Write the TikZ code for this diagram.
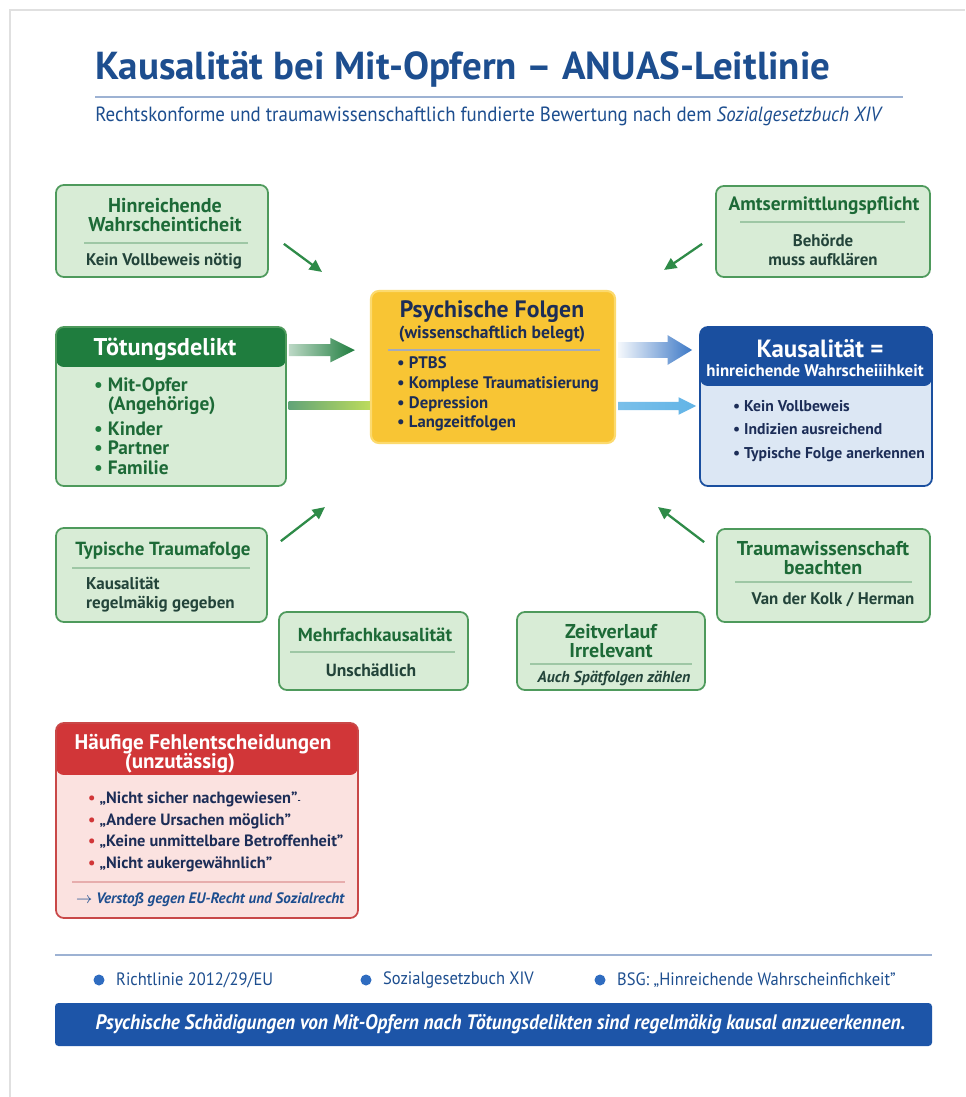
\documentclass[tikz,border=0pt]{standalone}
\usepackage{fontspec}
\setmainfont{PT Sans}
\newfontfamily\condfont[FakeStretch=0.92]{PT Sans}
\usetikzlibrary{arrows.meta,calc}
\definecolor{titleblue}{HTML}{1D4E8F}
\definecolor{ruleblue}{HTML}{9DB2D3}
\definecolor{gline}{HTML}{4E9A5C}
\definecolor{gfill}{HTML}{D8ECD6}
\definecolor{gdark}{HTML}{1D6A37}
\definecolor{gtext}{HTML}{23443A}
\definecolor{ghead}{HTML}{1F7D3E}
\definecolor{yfill}{HTML}{F8C534}
\definecolor{yline}{HTML}{FCDA6E}
\definecolor{navy}{HTML}{1C2D57}
\definecolor{bhead}{HTML}{1A4F9F}
\definecolor{bfill}{HTML}{DCE7F4}
\definecolor{barrow}{HTML}{3C78C6}
\definecolor{skyblue}{HTML}{62B4E6}
\definecolor{rhead}{HTML}{D13638}
\definecolor{rfill}{HTML}{FBE2E0}
\definecolor{rline}{HTML}{C94848}
\definecolor{banner}{HTML}{1D55A8}
\definecolor{dotblue}{HTML}{2F6CC0}
\definecolor{arrgreen}{HTML}{2E8B48}
\definecolor{lime}{HTML}{BCDB5C}

% box from pixel corners: style, name, x1, y1, x2, y2
\newcommand\pbox[6]{\node[#1,minimum width={(#5-#3)*0.02cm},minimum height={(#6-#4)*0.02cm},inner sep=0pt] (#2) at ({(#3+#5)/2},{(#4+#6)/2}) {};}
% shaded block arrow: style, from, to, shaft half, head half, head length
\newcommand\fatarrow[6]{\shade[#1] let \p1=(#2), \p2=(#3) in
  (\x1,\y1+#4) -- (\x2-#6,\y1+#4) -- (\x2-#6,\y1+#5) -- (\x2,\y1)
  -- (\x2-#6,\y1-#5) -- (\x2-#6,\y1-#4) -- (\x1,\y1-#4) -- cycle;}

\begin{document}
\begin{tikzpicture}[x=0.02cm,y=-0.02cm,
  gbox/.style={draw=gline,fill=gfill,line width=1pt,rounded corners=4.5pt},
  hdr/.style 2 args={path picture={\fill[#1] (path picture bounding box.north west) rectangle ([yshift=-#2]path picture bounding box.north east);}},
  gtitle/.style={font=\bfseries\fontsize{11.4}{11.3}\selectfont,text=gdark,align=center},
  gsub/.style={font=\bfseries\fontsize{9.6}{10.3}\selectfont,text=gtext,align=center},
  sep/.style={draw=gline!55,line width=0.6pt},
  garr/.style={draw=arrgreen,line width=1.3pt,-{Triangle[length=7pt,width=6.5pt]}},
  list/.style={anchor=west,align=left,font=\bfseries\fontsize{9.5}{11.3}\selectfont},
  src/.style={anchor=west,font=\condfont\fontsize{10.2}{12}\selectfont,text=titleblue}]
\useasboundingbox (0,0) rectangle (965,1097);
\fill[white] (0,0) rectangle (965,1097);
\draw[black!12,line width=1pt] (10,1097) -- (10,10) -- (965,10);

% heading
\node[anchor=base west,inner sep=0pt,font=\bfseries\fontsize{22.2}{25}\selectfont,text=titleblue] (title) at (95,80) {Kausalität bei Mit-Opfern – ANUAS-Leitlinie};
\draw[ruleblue,line width=0.9pt] (95,97) -- (903,97);
\node[anchor=base west,inner sep=0pt,font=\condfont\fontsize{11.7}{13}\selectfont,text=titleblue] (subtitle) at (95,122) {Rechtskonforme und traumawissenschaftlich fundierte Bewertung nach dem \textit{Sozialgesetzbuch XIV}};

% boxes
\pbox{gbox}{hin}{56}{185}{268}{277}
\pbox{gbox}{amts}{716}{186}{930}{277}
\pbox{draw=yline,fill=yfill,line width=1.2pt,rounded corners=4.5pt}{psy}{371}{291}{615}{443}
\pbox{gbox,hdr={ghead}{0.8cm}}{tot}{56}{327}{286}{486}
\pbox{draw=bhead,fill=bfill,line width=1pt,rounded corners=4.5pt,hdr={bhead}{1.18cm}}{kaus}{700}{327}{932}{486}
\pbox{gbox}{typ}{56}{528}{267}{622}
\pbox{gbox}{mehr}{279}{612}{468}{690}
\pbox{gbox}{zeit}{517}{612}{705}{690}
\pbox{gbox}{trauma}{717}{529}{930}{622}
\pbox{draw=rline,fill=rfill,line width=1pt,rounded corners=4.5pt,hdr={rhead}{1.04cm}}{fehl}{56}{723}{358}{918}

% Hinreichende Wahrscheinlichkeit
\node[gtitle] (hinT) at (165,215) {Hinreichende\\Wahrscheinticheit};
\draw[sep] (84,243) -- (248,243);
\node[gsub] (hinS) at (164,261) {Kein Vollbeweis nötig};

% Amtsermittlung
\node[gtitle,font=\bfseries\fontsize{11}{11.3}\selectfont] (amtsT) at (824,206) {Amtsermittlungspflicht};
\draw[sep] (740,222) -- (905,222);
\node[gsub] (amtsS) at (823,250) {Behörde\\muss aufklären};

% Psychische Folgen
\node[font=\bfseries\fontsize{13.5}{15}\selectfont,text=navy] (psyT) at (492,312) {Psychische Folgen};
\node[font=\bfseries\fontsize{10}{12}\selectfont,text=navy] (psyS) at (492,334) {(wissenschaftlich belegt)};
\draw[draw=navy!40,line width=0.6pt] (388,350) -- (600,350);
\node[list,text=navy] (psyL) at (391,394) {• PTBS\\• Komplese Traumatisierung\\• Depression\\• Langzeitfolgen};

% Toetungsdelikt
\node[font=\bfseries\fontsize{13.8}{15}\selectfont,text=white] (totT) at (165,349) {Tötungsdelikt};
\node[list,text=gdark,font=\bfseries\fontsize{11}{11}\selectfont] (totL) at (88,426) {{\color{ghead}•} Mit-Opfer\\\hphantom{• }(Angehörige)\\[3pt]{\color{ghead}•} Kinder\\{\color{ghead}•} Partner\\{\color{ghead}•} Familie};

% Kausalitaet
\node[font=\bfseries\fontsize{14.2}{15}\selectfont,text=white] (kausT) at (820,349) {Kausalität =};
\node[font=\bfseries\fontsize{9.6}{10}\selectfont,text=white] (kausS) at (815,371) {hinreichende Wahrscheiiihkeit};
\node[list,text=navy,font=\bfseries\fontsize{8.9}{13.6}\selectfont] (kausL) at (727,431) {• Kein Vollbeweis\\• Indizien ausreichend\\• Typische Folge anerkennen};

% Typische Traumafolge
\node[gtitle,font=\bfseries\fontsize{10.8}{11}\selectfont] (typT) at (163,551) {Typische Traumafolge};
\draw[sep] (72,568) -- (250,568);
\node[gsub,align=left,anchor=west,font=\bfseries\fontsize{9.7}{10.8}\selectfont] (typS) at (80,595) {Kausalität\\regelmäkig gegeben};

% Mehrfachkausalitaet
\node[gtitle,font=\bfseries\fontsize{10.7}{11}\selectfont] (mehrT) at (375,635) {Mehrfachkausalität};
\draw[sep] (290,652) -- (455,652);
\node[gsub,font=\bfseries\fontsize{10}{11}\selectfont] (mehrS) at (371,670) {Unschädlich};

% Zeitverlauf
\node[gtitle] (zeitT) at (611,641) {Zeitverlauf\\Irrelevant};
\draw[sep] (530,664) -- (692,664);
\node[gsub,font=\bfseries\itshape\fontsize{9}{10}\selectfont] (zeitS) at (614,678) {Auch Spätfolgen zählen};

% Traumawissenschaft
\node[gtitle] (traumaT) at (823,558) {Traumawissenschaft\\beachten};
\draw[sep] (735,582) -- (912,582);
\node[gsub] (traumaS) at (833,600) {Van der Kolk / Herman};

% Fehlentscheidungen
\node[font=\bfseries\fontsize{12}{13}\selectfont,text=white] (fehlT) at (203,744) {Häufige Fehlentscheidungen};
\node[font=\bfseries\fontsize{12}{13}\selectfont,text=white] (fehlU) at (180,763) {(unzutässig)};
\node[list,text=navy,font=\bfseries\fontsize{9.3}{12.2}\selectfont] (fehlL) at (82,832) {{\color{rhead}•} „Nicht sicher nachgewiesen”{\tiny-}\\{\color{rhead}•} „Andere Ursachen möglich”\\{\color{rhead}•} „Keine unmittelbare Betroffenheit”\\{\color{rhead}•} „Nicht aukergewähnlich”};
\draw[rline!45,line width=0.6pt] (72,882) -- (345,882);
\node[anchor=west,font=\bfseries\itshape\fontsize{8.6}{10}\selectfont,text=titleblue] (fehlS) at (70,900) {$\rightarrow$ Verstoß gegen EU-Recht und Sozialrecht};

% thin arrows towards the centre
\draw[garr] ([shift={(15,-34)}]hin.south east) -- ([shift={(-48,-18)}]psy.north west);
\draw[garr] ([shift={(-13,-34)}]amts.south west) -- ([shift={(48,-20)}]psy.north east);
\draw[garr] ([shift={(13,14)}]typ.north east) -- ([shift={(-45,63)}]psy.south west);
\draw[garr] ([shift={(-12,14)}]trauma.north west) -- ([shift={(42,63)}]psy.south east);

% block arrows
\coordinate (gA) at ([shift={(2,24)}]tot.north east);
\coordinate (gB) at ([shift={(-15,-15)}]psy.west);
\fatarrow{left color=ghead!30,right color=ghead}{gA}{gB}{3.4pt}{7pt}{14pt}
\shade[left color=ghead!70!white,right color=lime] let \p1=(tot.east), \p2=(psy.west) in (\x1+1pt,\y1-1.8pt) rectangle (\x2,\y1+2.7pt);
\coordinate (bA) at ([shift={(2,-17)}]psy.east);
\coordinate (bB) at ([shift={(-7,23)}]kaus.north west);
\fatarrow{left color=barrow!5,right color=barrow}{bA}{bB}{4.5pt}{8.5pt}{14pt}
\coordinate (bC) at ([shift={(2,39)}]psy.east);
\coordinate (bD) at ([shift={(-3,0)}]kaus.west);
\fatarrow{left color=skyblue!85,right color=skyblue}{bC}{bD}{2.3pt}{5pt}{10pt}

% sources
\draw[ruleblue,line width=1.2pt] (55,955) -- (932,955);
\fill[dotblue] (99,980) circle (5.5);
\fill[dotblue] (366,980) circle (5.5);
\fill[dotblue] (600,980) circle (5.5);
\node[src] (src1) at (110,980) {Richtlinie 2012/29/EU};
\node[src] (src2) at (377,980) {Sozialgesetzbuch XIV};
\node[src] (src3) at (611,980) {BSG: „Hinreichende Wahrscheinfichkeit”};

% conclusion
\pbox{fill=banner,rounded corners=2pt}{concl}{55}{1003}{932}{1046}
\node[font=\condfont\bfseries\itshape\fontsize{11.9}{14}\selectfont,text=white] (conclT) at ([xshift=4]concl) {Psychische Schädigungen von Mit-Opfern nach Tötungsdelikten sind regelmäkig kausal anzueerkennen.};
\end{tikzpicture}
\end{document}
